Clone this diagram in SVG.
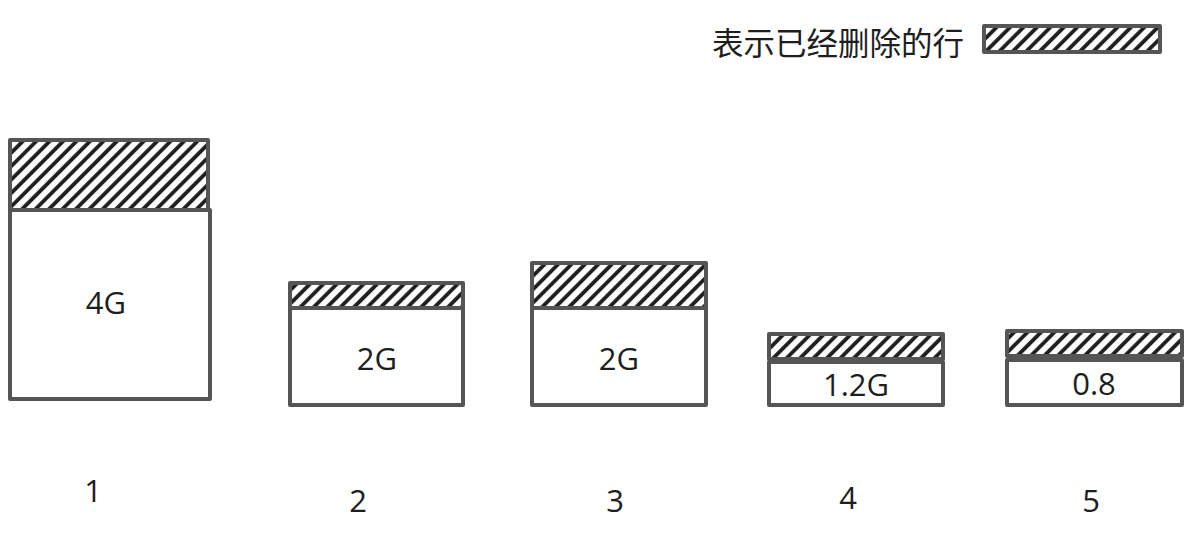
<svg xmlns="http://www.w3.org/2000/svg" width="1195" height="540" viewBox="0 0 1195 540">
  <style>
    .box { fill: #ffffff; stroke: #555555; stroke-width: 4; stroke-linejoin: round; }
    .hatch { fill: url(#hatch); stroke: #555555; stroke-width: 4; stroke-linejoin: round; }
    .lbl { font-family: "Open Sans", "Liberation Sans", sans-serif; font-size: 31px; fill: #1e1e1e; text-anchor: middle; dominant-baseline: central; }
    .cjk { font-family: "Noto Sans CJK SC", sans-serif; font-size: 31.5px; fill: #1e1e1e; dominant-baseline: central; }
  </style>
  <defs>
    <pattern id="hatch" patternUnits="userSpaceOnUse" width="9.5" height="9.5" patternTransform="rotate(45)">
      <rect width="9.5" height="9.5" fill="#ffffff"/>
      <line x1="2" y1="-1" x2="2" y2="11" stroke="#1e1e1e" stroke-width="3.8"/>
    </pattern>
  </defs>
  <rect width="1195" height="540" fill="#ffffff"/>

  <g id="legend">
    <text class="cjk" x="712" y="41">表示已经删除的行</text>
    <rect class="hatch" x="984" y="26" width="176" height="26"/>
  </g>

  <g id="node1">
    <rect class="hatch" x="10" y="140" width="198" height="70"/>
    <rect class="box" x="10" y="210" width="200" height="189"/>
    <text class="lbl" x="106" y="302">4G</text>
  </g>

  <g id="node2">
    <rect class="hatch" x="290" y="283" width="173" height="25"/>
    <rect class="box" x="290" y="308" width="173" height="97"/>
    <text class="lbl" x="377" y="358">2G</text>
  </g>

  <g id="node3">
    <rect class="hatch" x="532" y="263" width="174" height="45"/>
    <rect class="box" x="532" y="308" width="174" height="97"/>
    <text class="lbl" x="619" y="358">2G</text>
  </g>

  <g id="node4">
    <rect class="hatch" x="769" y="334" width="174" height="25"/>
    <rect class="box" x="769" y="362" width="174" height="43"/>
    <text class="lbl" x="856" y="384">1.2G</text>
  </g>

  <g id="node5">
    <rect class="hatch" x="1007" y="331" width="175" height="25"/>
    <rect class="box" x="1007" y="360" width="175" height="45"/>
    <text class="lbl" x="1094" y="383">0.8</text>
  </g>

  <g id="labels">
    <text class="lbl" x="93" y="490">1</text>
    <text class="lbl" x="358" y="500">2</text>
    <text class="lbl" x="615" y="500">3</text>
    <text class="lbl" x="848" y="497">4</text>
    <text class="lbl" x="1091" y="500">5</text>
  </g>

  <g id="connectors"></g>
</svg>
